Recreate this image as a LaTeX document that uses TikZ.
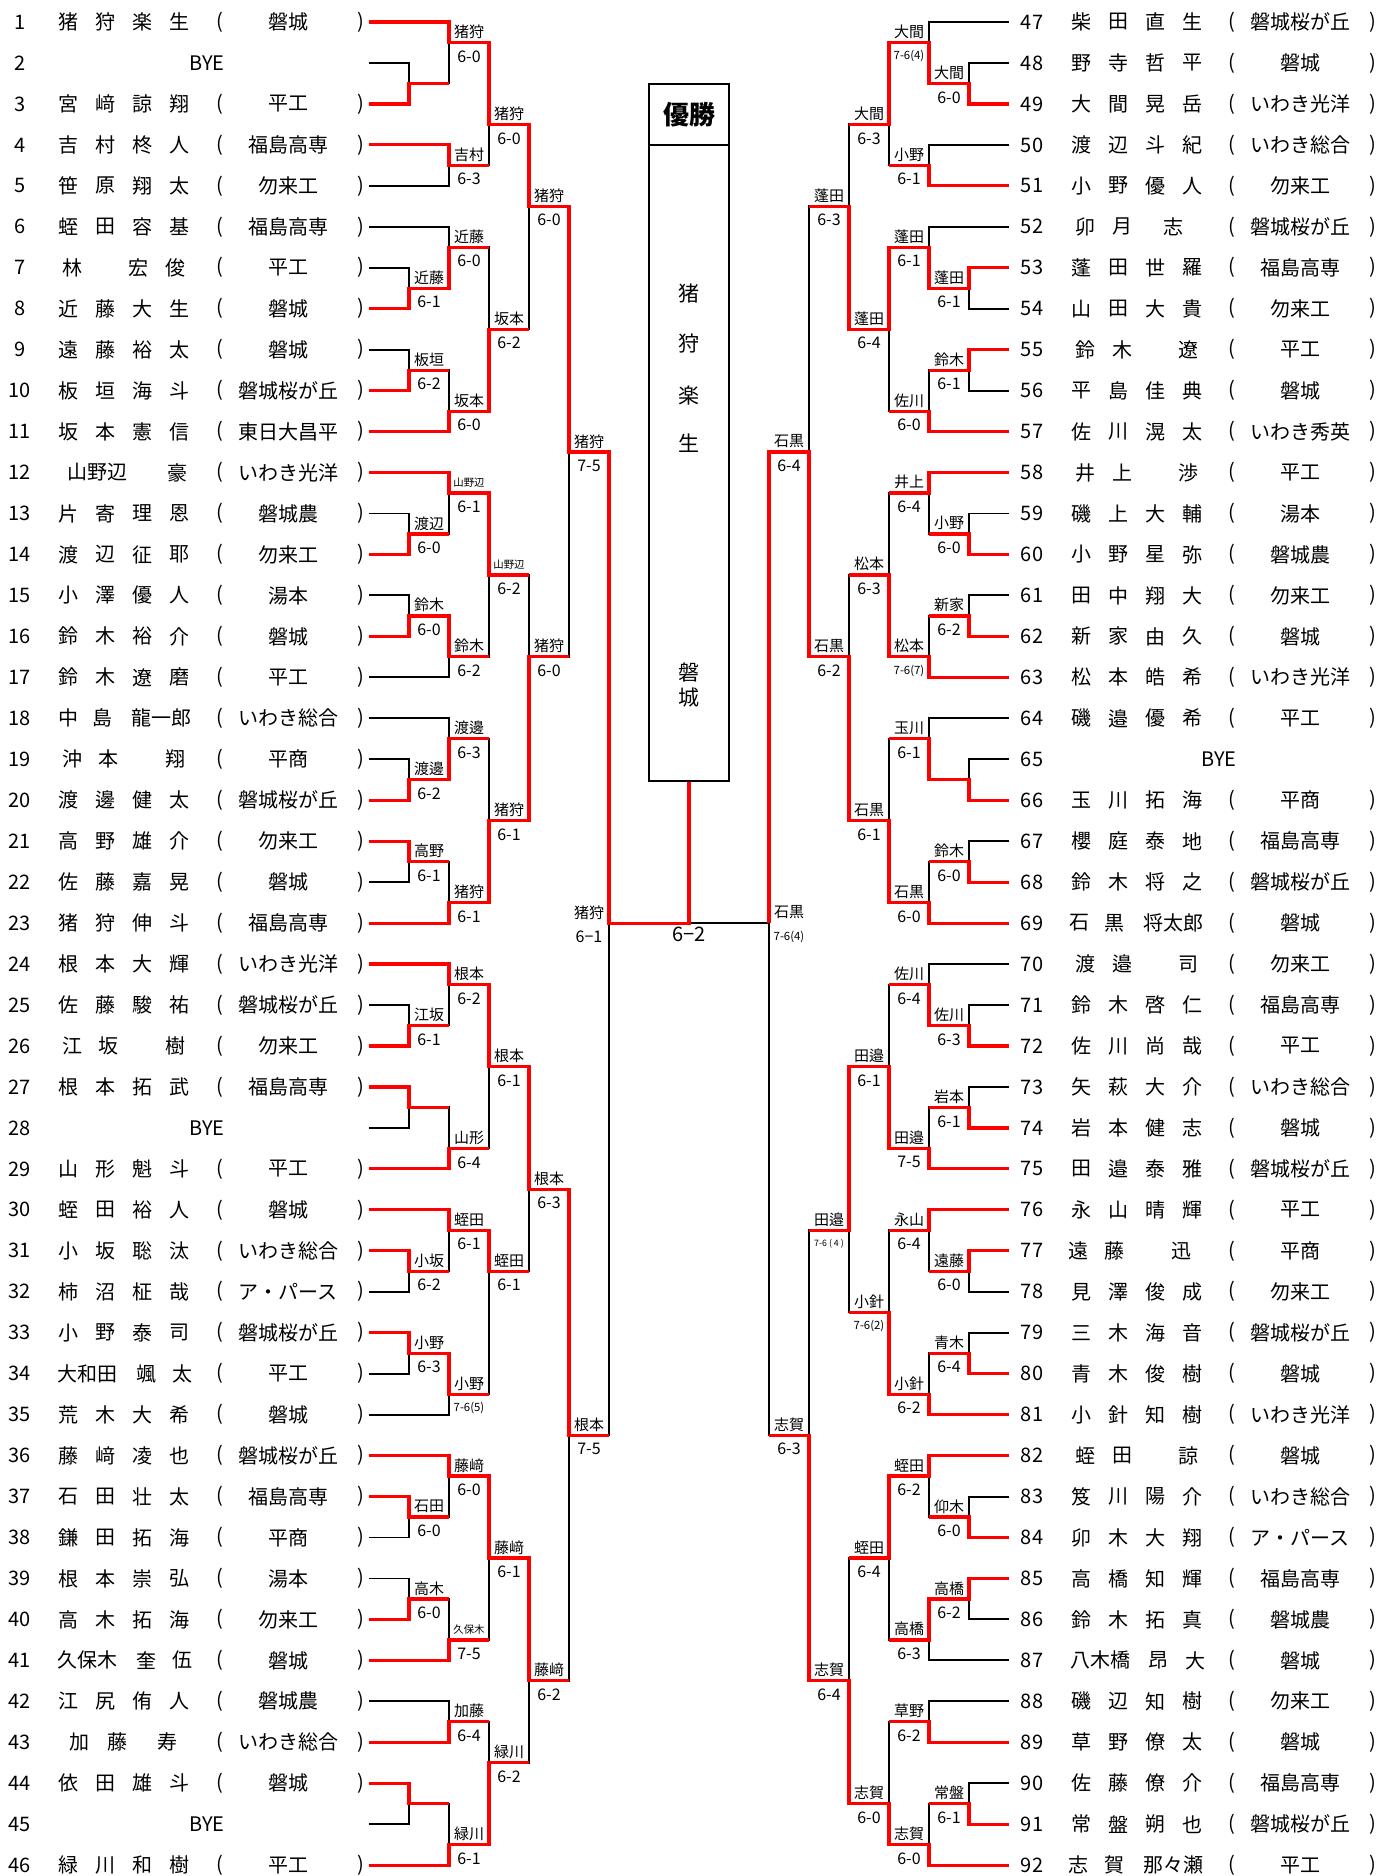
\documentclass[tikz,border=0pt]{standalone}
\usepackage{fontspec}
\setmainfont{Noto Sans CJK JP}

\tikzset{
  txt/.style={font=\fontsize{10}{12}\selectfont, inner sep=0pt},
  wname/.style={font=\fontsize{7.5}{9}\selectfont, inner sep=0pt},
  wscore/.style={font=\fontsize{8}{9}\selectfont, inner sep=0pt},
  bline/.style={black, line width=0.95pt},
  win/.style={red, line width=1.6pt},
  frame/.style={black, line width=1pt}
}
\newcommand\smname{\fontsize{5.2}{6}\selectfont}
\newcommand\smscore{\fontsize{5.7}{7}\selectfont}
\newcommand\tnscore{\fontsize{4.4}{5}\selectfont}

% match / round / row / top / bottom / winner / name / score
\newcommand\leftmatches{%
a1/1/2.5/p2/p3/p3/{}/{},
a2/2/1.5/p1/a1/p1/猪狩/6-0,
a3/2/4.5/p4/p5/p4/吉村/6-3,
a4/3/3.5/a2/a3/a2/猪狩/6-0,
a5/1/7.5/p7/p8/p8/近藤/6-1,
a6/2/6.5/p6/a5/a5/近藤/6-0,
a7/1/9.5/p9/p10/p10/板垣/6-2,
a8/2/10.5/a7/p11/p11/坂本/6-0,
a9/3/8.5/a6/a8/a8/坂本/6-2,
a10/4/5.5/a4/a9/a4/猪狩/6-0,
a11/1/13.5/p13/p14/p14/渡辺/6-0,
a12/2/12.5/p12/a11/p12/{\smname 山野辺}/6-1,
a13/1/15.5/p15/p16/p16/鈴木/6-0,
a14/2/16.5/a13/p17/a13/鈴木/6-2,
a15/3/14.5/a12/a14/a12/{\smname 山野辺}/6-2,
a16/1/19.5/p19/p20/p20/渡邊/6-2,
a17/2/18.5/p18/a16/a16/渡邊/6-3,
a18/1/21.5/p21/p22/p21/高野/6-1,
a19/2/22.5/a18/p23/p23/猪狩/6-1,
a20/3/20.5/a17/a19/a19/猪狩/6-1,
a21/4/16.5/a15/a20/a20/猪狩/6-0,
a22/5/11.5/a10/a21/a10/猪狩/7-5,
a23/1/25.5/p25/p26/p26/江坂/6-1,
a24/2/24.5/p24/a23/p24/根本/6-2,
a25/1/27.5/p27/p28/p27/{}/{},
a26/2/28.5/a25/p29/p29/山形/6-4,
a27/3/26.5/a24/a26/a24/根本/6-1,
a28/1/31.5/p31/p32/p31/小坂/6-2,
a29/2/30.5/p30/a28/p30/蛭田/6-1,
a30/1/33.5/p33/p34/p33/小野/6-3,
a31/2/34.5/a30/p35/a30/小野/{\smscore 7-6(5)},
a32/3/31.5/a29/a31/a29/蛭田/6-1,
a33/4/29.5/a27/a32/a27/根本/6-3,
a34/1/37.5/p37/p38/p37/石田/6-0,
a35/2/36.5/p36/a34/p36/藤﨑/6-0,
a36/1/39.5/p39/p40/p40/高木/6-0,
a37/2/40.5/a36/p41/p41/{\smname 久保木}/7-5,
a38/3/38.5/a35/a37/a35/藤﨑/6-1,
a39/2/42.5/p42/p43/p43/加藤/6-4,
a40/1/44.5/p44/p45/p44/{}/{},
a41/2/45.5/a40/p46/p46/緑川/6-1,
a42/3/43.5/a39/a41/a41/緑川/6-2,
a43/4/41.5/a38/a42/a38/藤﨑/6-2,
a44/5/35.5/a33/a43/a33/根本/7-5}

\newcommand\rightmatches{%
b1/1/2.5/p48/p49/p49/大間/6-0,
b2/2/1.5/p47/b1/b1/大間/{\smscore 7-6(4)},
b3/2/4.5/p50/p51/p51/小野/6-1,
b4/3/3.5/b2/b3/b2/大間/6-3,
b5/1/7.5/p53/p54/p53/蓬田/6-1,
b6/2/6.5/p52/b5/b5/蓬田/6-1,
b7/1/9.5/p55/p56/p55/鈴木/6-1,
b8/2/10.5/b7/p57/p57/佐川/6-0,
b9/3/8.5/b6/b8/b6/蓬田/6-4,
b10/4/5.5/b4/b9/b9/蓬田/6-3,
b11/1/13.5/p59/p60/p60/小野/6-0,
b12/2/12.5/p58/b11/p58/井上/6-4,
b13/1/15.5/p61/p62/p62/新家/6-2,
b14/2/16.5/b13/p63/p63/松本/{\smscore 7-6(7)},
b15/3/14.5/b12/b14/b14/松本/6-3,
b16/1/19.5/p65/p66/p66/{}/{},
b17/2/18.5/p64/b16/b16/玉川/6-1,
b18/1/21.5/p67/p68/p68/鈴木/6-0,
b19/2/22.5/b18/p69/p69/石黒/6-0,
b20/3/20.5/b17/b19/b19/石黒/6-1,
b21/4/16.5/b15/b20/b20/石黒/6-2,
b22/5/11.5/b10/b21/b21/石黒/6-4,
b23/1/25.5/p71/p72/p72/佐川/6-3,
b24/2/24.5/p70/b23/b23/佐川/6-4,
b25/1/27.5/p73/p74/p74/岩本/6-1,
b26/2/28.5/b25/p75/p75/田邉/7-5,
b27/3/26.5/b24/b26/b26/田邉/6-1,
b28/1/31.5/p77/p78/p77/遠藤/6-0,
b29/2/30.5/p76/b28/p76/永山/6-4,
b30/1/33.5/p79/p80/p80/青木/6-4,
b31/2/34.5/b30/p81/p81/小針/6-2,
b32/3/32.5/b29/b31/b31/小針/{\smscore 7-6(2)},
b33/4/30.5/b27/b32/b27/田邉/{\tnscore 7-6 ( 4 )},
b34/1/37.5/p83/p84/p84/仰木/6-0,
b35/2/36.5/p82/b34/p82/蛭田/6-2,
b36/1/39.5/p85/p86/p85/高橋/6-2,
b37/2/40.5/b36/p87/b36/高橋/6-3,
b38/3/38.5/b35/b37/b35/蛭田/6-4,
b39/2/42.5/p88/p89/p89/草野/6-2,
b40/1/44.5/p90/p91/p91/常盤/6-1,
b41/2/45.5/b40/p92/p92/志賀/6-0,
b42/3/44.5/b39/b41/b41/志賀/6-0,
b43/4/41.5/b38/b42/b42/志賀/6-4,
b44/5/35.5/b33/b43/b43/志賀/6-3}

\begin{document}
\begin{tikzpicture}[x=0.5pt, y=-20.48pt]
\useasboundingbox (0,0.4629) rectangle (1379,46.264);

% players, left half
\foreach \i/\ca/\cb/\cc/\cd/\sch in {1/猪/狩/楽/生/磐城, 3/宮/﨑/諒/翔/平工,
  4/吉/村/柊/人/福島高専, 5/笹/原/翔/太/勿来工, 6/蛭/田/容/基/福島高専,
  7/////平工, 8/近/藤/大/生/磐城, 9/遠/藤/裕/太/磐城, 10/板/垣/海/斗/磐城桜が丘,
  11/坂/本/憲/信/東日大昌平, 12/////いわき光洋, 13/片/寄/理/恩/磐城農,
  14/渡/辺/征/耶/勿来工, 15/小/澤/優/人/湯本, 16/鈴/木/裕/介/磐城,
  17/鈴/木/遼/磨/平工, 18/////いわき総合, 19/////平商, 20/渡/邊/健/太/磐城桜が丘,
  21/高/野/雄/介/勿来工, 22/佐/藤/嘉/晃/磐城, 23/猪/狩/伸/斗/福島高専,
  24/根/本/大/輝/いわき光洋, 25/佐/藤/駿/祐/磐城桜が丘, 26/////勿来工,
  27/根/本/拓/武/福島高専, 29/山/形/魁/斗/平工, 30/蛭/田/裕/人/磐城,
  31/小/坂/聡/汰/いわき総合, 32/柿/沼/柾/哉/ア・パース, 33/小/野/泰/司/磐城桜が丘,
  34/////平工, 35/荒/木/大/希/磐城, 36/藤/﨑/凌/也/磐城桜が丘,
  37/石/田/壮/太/福島高専, 38/鎌/田/拓/海/平商, 39/根/本/崇/弘/湯本,
  40/高/木/拓/海/勿来工, 41/////磐城, 42/江/尻/侑/人/磐城農,
  43/////いわき総合, 44/依/田/雄/斗/磐城, 46/緑/川/和/樹/平工} {
  \node[txt] (no\i) at (20,\i) {\i};
  \node[txt] (na\i) at (68,\i) {\ca};
  \node[txt] (nb\i) at (105,\i) {\cb};
  \node[txt] (nc\i) at (142,\i) {\cc};
  \node[txt] (nd\i) at (179,\i) {\cd};
  \node[txt] (op\i) at (220,\i) {(};
  \node[txt] (sh\i) at (288,\i) {\sch};
  \node[txt] (cp\i) at (361,\i) {)};
}
\foreach \i/\xx/\t in {7/72/林, 7/138/宏, 7/175/俊, 12/98/山野辺, 12/177/豪,
  18/68/中, 18/102/島, 18/161/龍一郎, 19/72/沖, 19/108/本, 19/175/翔,
  26/72/江, 26/108/坂, 26/175/樹, 34/87/大和田, 34/146/颯, 34/182/太,
  41/87/久保木, 41/146/奎, 41/182/伍, 43/79/加, 43/117/藤, 43/167/寿}
  \node[txt] (sp\i-\xx) at (\xx,\i) {\t};
\foreach \i in {2,28,45} {
  \node[txt] (no\i) at (20,\i) {\i};
  \node[txt] (bye\i) at (207,\i) {BYE};
}

% players, right half
\foreach \i/\ca/\cb/\cc/\cd/\sch in {47/柴/田/直/生/磐城桜が丘, 48/野/寺/哲/平/磐城,
  49/大/間/晃/岳/いわき光洋, 50/渡/辺/斗/紀/いわき総合, 51/小/野/優/人/勿来工,
  52/////磐城桜が丘, 53/蓬/田/世/羅/福島高専, 54/山/田/大/貴/勿来工,
  55/////平工, 56/平/島/佳/典/磐城, 57/佐/川/滉/太/いわき秀英, 58/////平工,
  59/磯/上/大/輔/湯本, 60/小/野/星/弥/磐城農, 61/田/中/翔/大/勿来工,
  62/新/家/由/久/磐城, 63/松/本/皓/希/いわき光洋, 64/磯/邉/優/希/平工,
  66/玉/川/拓/海/平商, 67/櫻/庭/泰/地/福島高専, 68/鈴/木/将/之/磐城桜が丘,
  69/////磐城, 70/////勿来工, 71/鈴/木/啓/仁/福島高専, 72/佐/川/尚/哉/平工,
  73/矢/萩/大/介/いわき総合, 74/岩/本/健/志/磐城, 75/田/邉/泰/雅/磐城桜が丘,
  76/永/山/晴/輝/平工, 77/////平商, 78/見/澤/俊/成/勿来工,
  79/三/木/海/音/磐城桜が丘, 80/青/木/俊/樹/磐城, 81/小/針/知/樹/いわき光洋,
  82/////磐城, 83/笈/川/陽/介/いわき総合, 84/卯/木/大/翔/ア・パース,
  85/高/橋/知/輝/福島高専, 86/鈴/木/拓/真/磐城農, 87/////磐城,
  88/磯/辺/知/樹/勿来工, 89/草/野/僚/太/磐城, 90/佐/藤/僚/介/福島高専,
  91/常/盤/朔/也/磐城桜が丘, 92/////平工} {
  \node[txt] (no\i) at (1032,{\i-46}) {\i};
  \node[txt] (na\i) at (1081,{\i-46}) {\ca};
  \node[txt] (nb\i) at (1118,{\i-46}) {\cb};
  \node[txt] (nc\i) at (1155,{\i-46}) {\cc};
  \node[txt] (nd\i) at (1192,{\i-46}) {\cd};
  \node[txt] (op\i) at (1232,{\i-46}) {(};
  \node[txt] (sh\i) at (1300,{\i-46}) {\sch};
  \node[txt] (cp\i) at (1373,{\i-46}) {)};
}
\foreach \i/\xx/\t in {52/1085/卯, 52/1122/月, 52/1173/志,
  55/1085/鈴, 55/1122/木, 55/1188/遼, 58/1085/井, 58/1122/上, 58/1188/渉,
  69/1079/石, 69/1114/黒, 69/1173/将太郎, 70/1085/渡, 70/1122/邉, 70/1188/司,
  77/1078/遠, 77/1114/藤, 77/1181/迅, 82/1085/蛭, 82/1122/田, 82/1188/諒,
  87/1100/八木橋, 87/1158/昂, 87/1195/大, 92/1078/志, 92/1114/賀, 92/1173/那々瀬}
  \node[txt] (sp\i-\xx) at (\xx,{\i-46}) {\t};
\node[txt] (no65) at (1032,19) {65};
\node[txt] (bye65) at (1219,19) {BYE};

% line ends of the players
\foreach \i in {1,...,46} \coordinate (p\i) at (369,\i);
\foreach \i in {47,...,92} \coordinate (p\i) at (1009,{\i-46});

% brackets in black
\foreach \mt/\cl/\yy/\ta/\tb/\wn/\lb/\scr in \leftmatches {
  \coordinate (\mt) at ({369+40*\cl},\yy);
  \draw[bline] (\ta) -| (\mt) |- (\tb);
}
\foreach \mt/\cl/\yy/\ta/\tb/\wn/\lb/\scr in \rightmatches {
  \coordinate (\mt) at ({1009-40*\cl},\yy);
  \draw[bline] (\ta) -| (\mt) |- (\tb);
}
\coordinate (a45) at (609,23);
\coordinate (b45) at (769,23);
\coordinate (fin) at (689,23);
\coordinate (boxb) at (689,19.53);
\draw[bline] (a22) -| (a45) |- (a44);
\draw[bline] (b22) -| (b45) |- (b44);
\draw[bline] (b45) -- (fin);

% winners in red
\foreach \mt/\cl/\yy/\ta/\tb/\wn/\lb/\scr in \leftmatches {
  \draw[win] (\wn) -| (\mt) -- ++(40,0);
  \node[wname] (\mt-n) at ({389+40*\cl},{\yy-0.26}) {\lb};
  \node[wscore] (\mt-s) at ({389+40*\cl},{\yy+0.34}) {\scr};
}
\foreach \mt/\cl/\yy/\ta/\tb/\wn/\lb/\scr in \rightmatches {
  \draw[win] (\wn) -| (\mt) -- ++(-40,0);
  \node[wname] (\mt-n) at ({989-40*\cl},{\yy-0.26}) {\lb};
  \node[wscore] (\mt-s) at ({989-40*\cl},{\yy+0.34}) {\scr};
}
\draw[win] (a22) -| (a45) -- (fin) -- (boxb);
\draw[win] (b22) -| (b45);
\node[wname] (a45-n) at (589,22.74) {猪狩};
\node[wscore] (a45-s) at (589,23.34) {6−1};
\node[wname] (b45-n) at (789,22.74) {石黒};
\node[wscore] (b45-s) at (789,23.34) {\smscore 7-6(4)};
\node[txt] (final) at (689,23.27) {6−2};

% champion box
\draw[frame] (649,2.514) rectangle (729,19.53);
\draw[frame] (649,4.003) -- (729,4.003);
\node[font=\fontsize{13}{15}\selectfont\bfseries, inner sep=0pt] (yusho) at (689,3.26) {優勝};
\foreach \t/\yy in {猪/7.64, 狩/8.86, 楽/10.13, 生/11.28, 磐/16.89, 城/17.50}
  \node[font=\fontsize{10.5}{12}\selectfont, inner sep=0pt] (ch\yy) at (689,\yy) {\t};
\end{tikzpicture}
\end{document}
